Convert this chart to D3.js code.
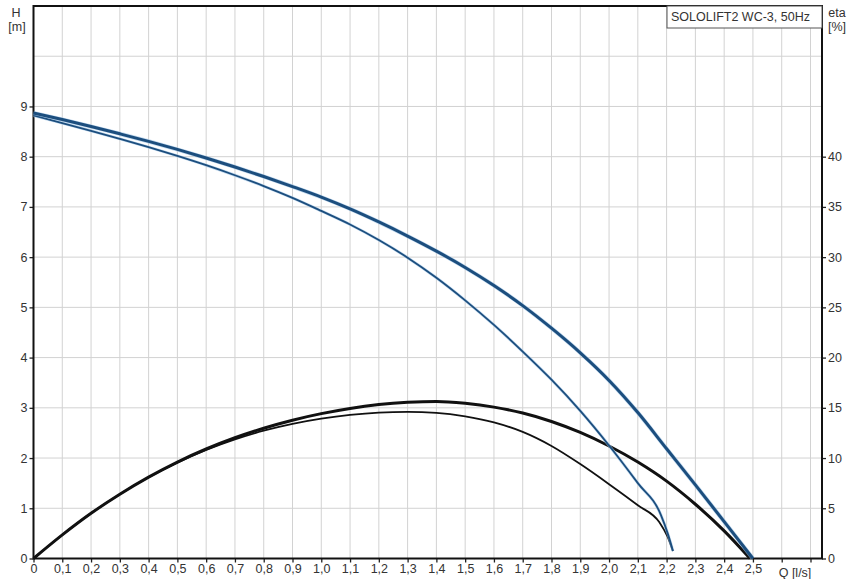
<!DOCTYPE html>
<html><head><meta charset="utf-8">
<script src="https://cdn.jsdelivr.net/npm/d3@7"></script>
<style>body{margin:0;background:#fff}svg{display:block;font-family:"Liberation Sans",Arial,sans-serif}</style>
</head><body><svg id="c" width="855" height="579"></svg>
<script>
const title = "SOLOLIFT2 WC-3, 50Hz";
const xTicks = d3.range(0, 28).map(i => +(i / 10).toFixed(1));
const xTickLabels = xTicks.map(v => v <= 2.5 ? (v === 0 ? "0" : v.toFixed(1).replace(".", ",")) : "");
const hTicks = [0,1,2,3,4,5,6,7,8,9];
const etaTicks = [0,5,10,15,20,25,30,35,40];

const qH100 = [0,0.1,0.2,0.3,0.4,0.5,0.6,0.7,0.8,0.9,1.0,1.1,1.2,1.3,1.4,1.5,1.6,1.7,1.8,1.9,2.0,2.1,2.2,2.3,2.4,2.5];
const h100  = [8.87,8.74,8.60,8.455,8.305,8.145,7.975,7.795,7.605,7.405,7.195,6.96,6.70,6.42,6.12,5.795,5.435,5.035,4.585,4.095,3.545,2.905,2.185,1.465,0.735,0];
const qHb   = [0,0.1,0.2,0.3,0.4,0.5,0.6,0.7,0.8,0.9,1.0,1.1,1.2,1.3,1.4,1.5,1.6,1.7,1.8,1.9,2.0,2.1,2.18,2.205,2.222];
const hb    = [8.82,8.67,8.515,8.355,8.19,8.015,7.83,7.63,7.415,7.18,6.92,6.65,6.34,5.99,5.59,5.14,4.65,4.12,3.56,2.94,2.25,1.50,0.87,0.48,0.15];
const qEta100 = [0,0.1,0.2,0.3,0.4,0.5,0.6,0.7,0.8,0.9,1.0,1.1,1.2,1.3,1.4,1.5,1.6,1.7,1.8,1.9,2.0,2.1,2.2,2.3,2.4,2.49];
const eta100  = [0,2.35,4.5,6.4,8.1,9.6,10.9,12.02,12.97,13.77,14.42,14.94,15.32,15.55,15.64,15.45,15.07,14.48,13.64,12.55,11.2,9.6,7.7,5.4,2.75,0];
const qEtab = [0,0.1,0.2,0.3,0.4,0.5,0.6,0.7,0.8,0.9,1.0,1.1,1.2,1.3,1.4,1.5,1.6,1.7,1.8,1.9,2.0,2.1,2.175,2.203,2.222];
const etab  = [0,2.35,4.5,6.4,8.08,9.55,10.8,11.85,12.72,13.4,13.92,14.3,14.53,14.6,14.5,14.15,13.55,12.6,11.2,9.4,7.4,5.3,3.6,2.2,0.75];

const L = 33.5, R = 822, T = 6, B = 558.5;
const x = d3.scaleLinear().domain([0, 2.74]).range([L, R]);
const y = d3.scaleLinear().domain([0, 11]).range([B, T]);
const yEta = d3.scaleLinear().domain([0, 55]).range([B, T]);
const svg = d3.select("#c");

// grid
svg.append("g").selectAll("line").data(xTicks.filter(v => v > 0)).join("line")
  .attr("x1", d => x(d)).attr("x2", d => x(d)).attr("y1", T).attr("y2", B)
  .attr("stroke", "#d2d2d2").attr("stroke-width", 1);
svg.append("g").selectAll("line").data(d3.range(1, 11)).join("line")
  .attr("y1", d => y(d)).attr("y2", d => y(d)).attr("x1", L).attr("x2", R)
  .attr("stroke", "#d2d2d2").attr("stroke-width", 1);

// axes
const fs = "12.5px";
const xa = svg.append("g").attr("transform", `translate(0,${B})`)
  .call(d3.axisBottom(x).tickValues(xTicks).tickSize(4).tickSizeOuter(0).tickFormat((d, i) => xTickLabels[i]));
const ya = svg.append("g").attr("transform", `translate(${L},0)`)
  .call(d3.axisLeft(y).tickValues(hTicks).tickSize(4).tickSizeOuter(0).tickFormat(d3.format("d")));
const ea = svg.append("g").attr("transform", `translate(${R},0)`)
  .call(d3.axisRight(yEta).tickValues(etaTicks).tickSize(4).tickSizeOuter(0).tickFormat(d3.format("d")));
[xa, ya, ea].forEach(a => {
  a.select(".domain").remove();
  a.selectAll("line").attr("stroke", "#222").attr("stroke-width", 1.3);
  a.selectAll("text").attr("fill", "#333").style("font-size", fs).style("font-family", "Liberation Sans, Arial, sans-serif");
});
xa.selectAll("text").attr("dy", "0.95em").attr("y", 3);
ya.selectAll("text").attr("x", -6);
ea.selectAll("text").attr("x", 6);

// frame
svg.append("rect").attr("x", L).attr("y", T).attr("width", R - L).attr("height", B - T)
  .attr("fill", "none").attr("stroke", "#111").attr("stroke-width", 2);

// labels
const lab = (t, xx, yy, anchor) => svg.append("text").text(t).attr("x", xx).attr("y", yy)
  .attr("text-anchor", anchor || "middle").attr("fill", "#333").style("font-size", fs);
lab("H", 16, 17); lab("[m]", 17, 31);
lab("eta", 837, 17); lab("[%]", 837, 31);
lab("Q [l/s]", x(2.6) - 3, B + 18, "start");

// title box
svg.append("rect").attr("x", 667).attr("y", T).attr("width", R - 667).attr("height", 22)
  .attr("fill", "#fff").attr("stroke", "#555").attr("stroke-width", 1);
lab(title, 671, 21, "start");

// curves
const lineH = (qs) => d3.line().x((d, i) => x(qs[i])).y(d => y(d)).curve(d3.curveMonotoneX);
const lineE = (qs) => d3.line().x((d, i) => x(qs[i])).y(d => yEta(d)).curve(d3.curveMonotoneX);
const draw = (path, w, c, halo) => {
  if (halo) svg.append("path").attr("d", path).attr("fill", "none").attr("stroke", "#9cc3e6").attr("stroke-width", w + 1.2).attr("stroke-opacity", 0.6);
  svg.append("path").attr("d", path).attr("fill", "none").attr("stroke", c).attr("stroke-width", w).attr("stroke-linejoin", "round");
};
draw(lineE(qEtab)(etab), 1.8, "#111", false);
draw(lineE(qEta100)(eta100), 3, "#111", false);
draw(lineH(qHb)(hb), 1.8, "#1c4e7e", true);
draw(lineH(qH100)(h100), 3, "#1c4e7e", true);
</script></body></html>
